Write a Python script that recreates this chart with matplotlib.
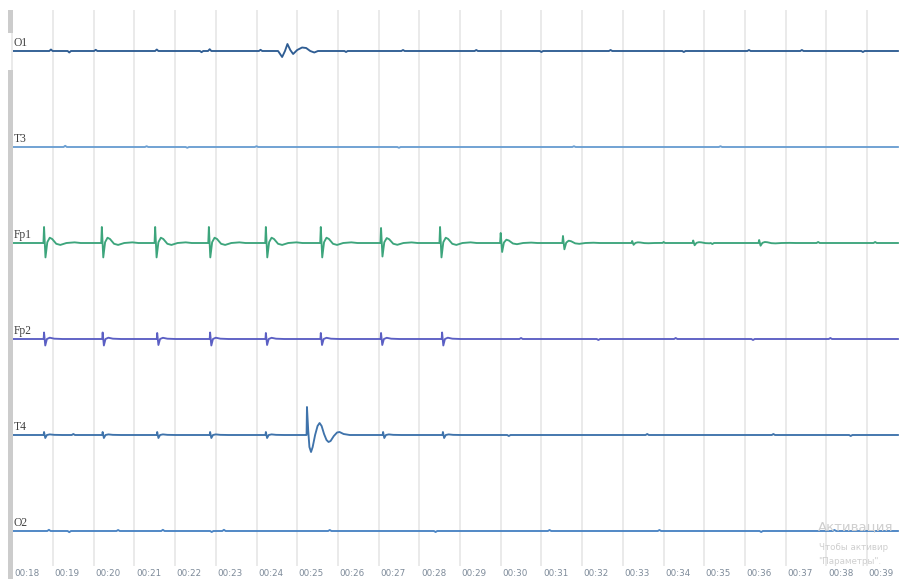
import numpy as np
import matplotlib
matplotlib.use("Agg")
import matplotlib.pyplot as plt
from matplotlib.patches import Rectangle

# ---------------- data ----------------
CHANNELS = ["O1", "T3", "Fp1", "Fp2", "T4", "O2"]
CH_COLORS = ["#2f5d93", "#6b9fd2", "#3da57c", "#5b5fc4", "#3f73ab", "#4a84c4"]

TICK_SECONDS = list(range(18, 40))
TICK_LABELS = ["00:18", "00:19", "00:20", "00:21", "00:22", "00:23", "00:24",
               "00:25", "00:26", "00:27", "00:28", "00:29", "00:30", "00:31",
               "00:32", "00:33", "00:34", "00:35", "00:36", "00:37", "00:38",
               "00:39"]

T_START, T_END = 18.04, 39.76

# generic spike waveform (relative time in s, relative amplitude)
SPIKE_DT = [-0.06, -0.015, 0.0, 0.035, 0.08, 0.14, 0.20, 0.30, 0.40, 0.55, 0.75, 0.90]
SPIKE_SHAPE = [0.0, 0.0, 1.0, -0.9, 0.05, 0.33, 0.25, -0.05, -0.12, 0.0, 0.04, 0.0]

SMALL_DT = [-0.05, -0.01, 0.0, 0.03, 0.07, 0.14, 0.25, 0.45]
SMALL_SHAPE = [0.0, 0.0, 1.0, -1.0, 0.0, 0.2, 0.05, 0.0]

# Fp1 spikes
FP1_TIMES = [18.78, 20.20, 21.51, 22.83, 24.23, 25.58, 27.06, 28.51, 30.00,
             31.53, 33.23, 34.73, 36.35]
FP1_AMPS = [16, 16, 16, 16, 16, 16, 15, 16, 10, 7, 2, 2.5, 3]

# Fp2 spikes
FP2_TIMES = [18.78, 20.22, 21.56, 22.86, 24.23, 25.58, 27.06, 28.56]
FP2_AMPS = [6.5, 6.5, 6, 6.5, 6, 6, 6, 6.5]

# T4 small spikes
T4_TIMES = [18.78, 20.22, 21.56, 22.86, 24.23, 27.11, 28.58]
T4_AMPS = [3, 3, 3, 3, 3, 3, 3]

# T4 big event
T4_EVENT_T = 25.24
T4_EVENT_DT = [-0.04, -0.01, 0.0, 0.03, 0.06, 0.10, 0.14, 0.20, 0.26, 0.31,
               0.36, 0.42, 0.48, 0.53, 0.58, 0.66, 0.74, 0.80, 0.90, 1.05]
T4_EVENT_V = [0, 0, 28, 5, -12, -17, -12, 0, 9, 12, 9, 1, -5, -7, -6, -1, 2.5,
              3, 1, 0]

# O1 slow wave
O1_EVENT_T = 24.63
O1_EVENT_DT = [-0.10, 0.0, 0.07, 0.13, 0.20, 0.27, 0.37, 0.49, 0.59, 0.69,
               0.79, 0.88]
O1_EVENT_V = [0, -6, 0, 7, 1, -3, 1, 3.5, 3, 0, -1.5, 0]

# small baseline blips (time, amplitude)
O1_BLIPS_T = [18.95, 19.40, 20.05, 21.55, 22.65, 22.85, 24.10, 26.20, 27.60,
              29.40, 31.00, 32.70, 34.50, 36.10, 37.40, 38.90]
O1_BLIPS_A = [1.5, -1.5, 1.2, 1.5, -1.2, 1.8, 1.2, -1, 1, 1, -1, 1, -1, 1, 1, -1]
T3_BLIPS_T = [19.30, 21.30, 22.30, 24.00, 27.50, 31.80, 35.40]
T3_BLIPS_A = [1.2, 0.8, -0.8, 0.8, -0.8, 0.8, 0.8]
FP1_BLIPS_T = [34.00, 35.20, 37.80, 39.20]
FP1_BLIPS_A = [1.0, -1.0, 1.0, 1.0]
FP2_BLIPS_T = [30.50, 32.40, 34.30, 36.20, 38.10]
FP2_BLIPS_A = [1.0, -1.0, 1.0, -1.0, 1.0]
T4_BLIPS_T = [19.50, 30.20, 33.60, 36.70, 38.60]
T4_BLIPS_A = [1.0, -1.0, 1.0, 1.0, -1.0]
O2_BLIPS_T = [18.90, 19.40, 20.60, 21.70, 22.90, 23.20, 25.80, 28.40, 31.20,
              33.90, 36.40, 38.20]
O2_BLIPS_A = [1.2, -1.2, 1.0, 1.2, -1.0, 1.2, 1.0, -1.0, 1.0, 1.0, -1.0, 1.0]

BLIP_DT = [-0.04, 0.0, 0.04]
BLIP_SHAPE = [0.0, 1.0, 0.0]

WATERMARK = ["Активация", "Чтобы активир", "\"Параметры\"."]


def build(events):
    """events: list of (center_time, dts, shape, amp)."""
    pts = {T_START: 0.0, T_END: 0.0}
    for tc, dts, shape, amp in events:
        for d, s in zip(dts, shape):
            pts[round(tc + d, 4)] = s * amp
    ts = np.array(sorted(pts))
    vs = np.array([pts[t] for t in ts])
    return ts, vs


def spikes(times, amps, dts, shape):
    return [(t, dts, shape, a) for t, a in zip(times, amps)]


def blips(times, amps):
    return [(t, BLIP_DT, BLIP_SHAPE, a) for t, a in zip(times, amps)]


traces = {
    "O1": build(blips(O1_BLIPS_T, O1_BLIPS_A) +
                [(O1_EVENT_T, O1_EVENT_DT, O1_EVENT_V, 1.0)]),
    "T3": build(blips(T3_BLIPS_T, T3_BLIPS_A)),
    "Fp1": build(spikes(FP1_TIMES, FP1_AMPS, SPIKE_DT, SPIKE_SHAPE) +
                 blips(FP1_BLIPS_T, FP1_BLIPS_A)),
    "Fp2": build(spikes(FP2_TIMES, FP2_AMPS, SMALL_DT, SMALL_SHAPE) +
                 blips(FP2_BLIPS_T, FP2_BLIPS_A)),
    "T4": build(spikes(T4_TIMES, T4_AMPS, SMALL_DT, SMALL_SHAPE) +
                blips(T4_BLIPS_T, T4_BLIPS_A) +
                [(T4_EVENT_T, T4_EVENT_DT, T4_EVENT_V, 1.0)]),
    "O2": build(blips(O2_BLIPS_T, O2_BLIPS_A)),
}

# ---------------- figure ----------------
W, H = 900, 579
fig = plt.figure(figsize=(W / 100, H / 100), dpi=100)
ax = fig.add_axes([0, 0, 1, 1])
px_per_s = 40.7
x0_px = 12.3
ax.set_xlim(18 - x0_px / px_per_s, 18 + (W - x0_px) / px_per_s)
ax.set_ylim(H, 0)
ax.axis("off")

# left grey scroll bar
fig.patches.append(Rectangle((8 / W, 1 - 33 / H), 5 / W, 23 / H,
                             transform=fig.transFigure, color="#cccccc", lw=0))
fig.patches.append(Rectangle((8 / W, 0), 5 / W, 1 - 70 / H,
                             transform=fig.transFigure, color="#cccccc", lw=0))

# vertical grid
ax.vlines(TICK_SECONDS, 10, 566, color="#e8e8e8", lw=1.3, zorder=0)

# time labels
for t, lab in zip(TICK_SECONDS, TICK_LABELS):
    ax.text(t + 0.04, 573, lab, ha="left", va="center", fontsize=6.3,
            color="#7d8a99", family="DejaVu Sans")

# traces
base0, spacing = 51, 96
for i, (ch, col) in enumerate(zip(CHANNELS, CH_COLORS)):
    base = base0 + i * spacing
    ts, vs = traces[ch]
    ax.plot(ts, base - vs, color=col, lw=1.35, zorder=3,
            solid_joinstyle="round")
    ax.text(18.04, base - 2, ch, ha="left", va="bottom", fontsize=8.3,
            color="#404040", family="Liberation Serif", zorder=4)

# watermark
ax.text(18 + (818 - x0_px) / px_per_s, 527, WATERMARK[0], ha="left",
        va="center", fontsize=9.5, color="#cfcfcf", zorder=5)
ax.text(18 + (819 - x0_px) / px_per_s, 548, WATERMARK[1], ha="left",
        va="center", fontsize=6.3, color="#cfcfcf", zorder=5)
ax.text(18 + (818 - x0_px) / px_per_s, 562, WATERMARK[2], ha="left",
        va="center", fontsize=6.3, color="#cfcfcf", zorder=5)

fig.savefig("out.png", dpi=100, facecolor="white")
